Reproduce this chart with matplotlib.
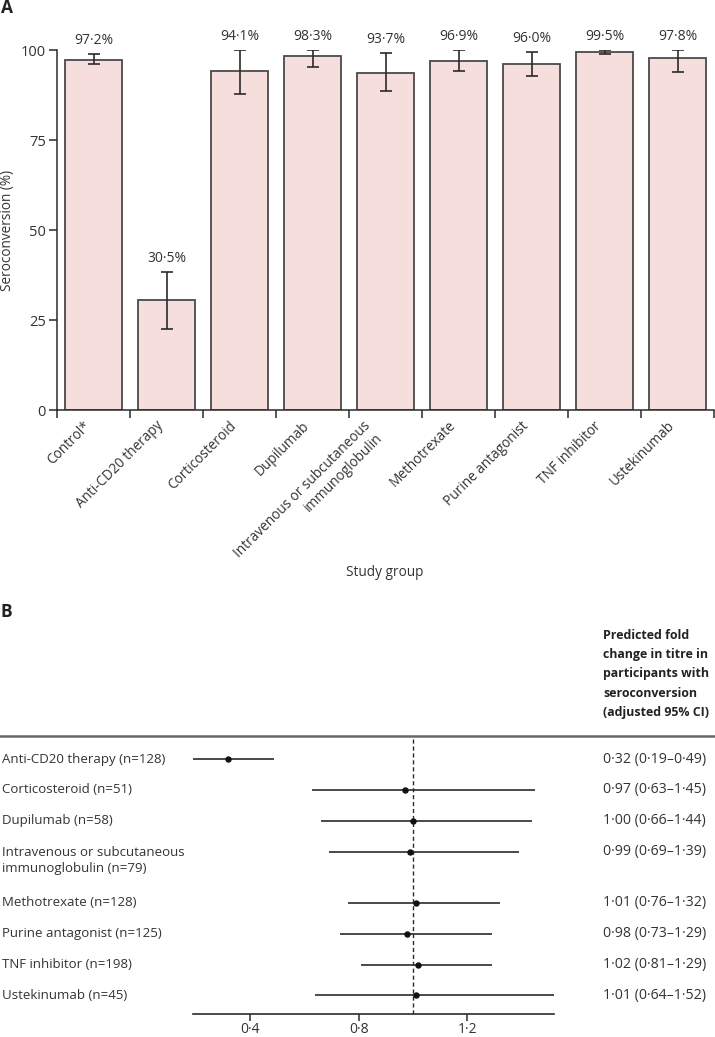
import numpy as np
import matplotlib
matplotlib.use("Agg")
import matplotlib.pyplot as plt
from matplotlib.lines import Line2D
from matplotlib.transforms import blended_transform_factory
from matplotlib.ticker import FuncFormatter

plt.rcParams['font.family'] = ['Open Sans', 'DejaVu Sans']

# ---------------- data: panel A ----------------
groups = ["Control*", "Anti-CD20 therapy", "Corticosteroid", "Dupilumab",
          "Intravenous or subcutaneous\nimmunoglobulin", "Methotrexate",
          "Purine antagonist", "TNF inhibitor", "Ustekinumab"]
pct = [97.2, 30.5, 94.1, 98.3, 93.7, 96.9, 96.0, 99.5, 97.8]
ci_low = [96.0, 22.5, 87.9, 95.3, 88.6, 94.2, 92.8, 98.9, 93.9]
ci_high = [98.8, 38.2, 100.0, 100.0, 99.1, 99.9, 99.4, 99.9, 100.0]
yticks_a = [0, 25, 50, 75, 100]

# ---------------- data: panel B ----------------
forest_labels = ["Anti-CD20 therapy (n=128)", "Corticosteroid (n=51)", "Dupilumab (n=58)",
                 "Intravenous or subcutaneous\nimmunoglobulin (n=79)", "Methotrexate (n=128)",
                 "Purine antagonist (n=125)", "TNF inhibitor (n=198)", "Ustekinumab (n=45)"]
fold = [0.32, 0.97, 1.00, 0.99, 1.01, 0.98, 1.02, 1.01]
fold_lo = [0.19, 0.63, 0.66, 0.69, 0.76, 0.73, 0.81, 0.64]
fold_hi = [0.49, 1.45, 1.44, 1.39, 1.32, 1.29, 1.29, 1.52]
xticks_b = [0.4, 0.8, 1.2]

W, H = 715, 1037
fig = plt.figure(figsize=(W / 100, H / 100), dpi=100)

def fx(px):
    return px / W

def fy(py):
    return 1 - py / H

dark = "#2b2b2b"
txt = "#333333"
bar_face = "#F5DEDB"
bar_edge = "#4a4a4a"

# ---------------- Panel A ----------------
axA = fig.add_axes([fx(57), fy(410), fx(714) - fx(57), fy(50) - fy(410)])
n = len(groups)
x = np.arange(n)
err = [np.array(pct) - np.array(ci_low), np.array(ci_high) - np.array(pct)]
axA.bar(x, pct, width=0.77, color=bar_face, edgecolor=bar_edge, linewidth=1.3, zorder=2)
axA.errorbar(x, pct, yerr=err, fmt='none', ecolor=dark, elinewidth=1.2,
             capsize=4.3, capthick=1.2, zorder=3)
for xi, v, top in zip(x, pct, ci_high):
    axA.annotate(f"{v:.1f}%".replace('.', '·'), xy=(xi, top), xytext=(0, 4.5),
                 textcoords='offset points', ha='center', va='bottom',
                 fontsize=10, color=txt, annotation_clip=False)
axA.set_xlim(-0.5, n - 0.5)
axA.set_ylim(0, 100)
axA.spines['top'].set_visible(False)
axA.spines['right'].set_visible(False)
for s in ['left', 'bottom']:
    axA.spines[s].set_color(dark)
    axA.spines[s].set_linewidth(1.1)
axA.set_yticks(yticks_a)
axA.set_yticklabels([str(t) for t in yticks_a], fontsize=10.5, color=txt)
axA.tick_params(axis='y', length=6, width=1.1, color=dark, pad=2)
axA.set_xticks(np.arange(n + 1) - 0.5)
axA.set_xticklabels([])
axA.tick_params(axis='x', which='major', length=6, width=1.1, color=dark)
axA.set_xticks(x, minor=True)
axA.set_xticklabels(groups, minor=True, rotation=45, ha='right', va='top',
                    fontsize=9.8, color=txt, multialignment='right')
axA.tick_params(axis='x', which='minor', length=0, pad=6)
axA.set_ylabel("Seroconversion (%)", fontsize=9.8, color=txt)
axA.yaxis.set_label_coords((8 - 57) / 657, 0.5)
axA.yaxis.label.set_verticalalignment('center')
fig.text(fx(385), fy(573), "Study group", ha='center', va='center', fontsize=9.8, color=txt)
fig.text(fx(1), fy(8), "A", ha='left', va='center', fontsize=12.5, fontweight='bold', color='#222222')

# ---------------- Panel B ----------------
fig.text(fx(1), fy(612), "B", ha='left', va='center', fontsize=12.5, fontweight='bold', color='#222222')
axB = fig.add_axes([fx(193), fy(1014), fx(554) - fx(193), fy(738) - fy(1014)])
gap = 0.65
idx = np.arange(len(fold))
ypos = idx + np.where(idx > 3, gap, 0.0)
axB.hlines(ypos, fold_lo, fold_hi, color=dark, linewidth=1.2, zorder=2)
axB.plot(fold, ypos, 'o', color='#111111', markersize=3.6, zorder=3)
axB.axvline(1.0, color=dark, linewidth=1.0, linestyle=(0, (3, 2)), zorder=1)
axB.set_xlim(0.19, 1.52)
axB.set_ylim(ypos[-1] + 0.6, -0.68)
for s in ['top', 'right', 'left']:
    axB.spines[s].set_visible(False)
axB.spines['bottom'].set_color(dark)
axB.spines['bottom'].set_linewidth(1.2)
axB.set_yticks([])
axB.set_xticks(xticks_b)
axB.xaxis.set_major_formatter(FuncFormatter(lambda v, p: f"{v:.1f}".replace('.', '·')))
axB.tick_params(axis='x', length=5, width=1.1, color=dark, labelsize=10,
                labelcolor=txt, pad=1)

trL = blended_transform_factory(fig.transFigure, axB.transData)
line_h_pt = 12.5
for yp, lab, f, lo, hi in zip(ypos, forest_labels, fold, fold_lo, fold_hi):
    nl = lab.count("\n")
    axB.annotate(lab, xy=(fx(2), yp), xycoords=trL, xytext=(0, -nl * line_h_pt / 2),
                 textcoords='offset points', ha='left', va='center',
                 fontsize=9.5, color=txt, linespacing=1.35, annotation_clip=False)
    s = f"{f:.2f} ({lo:.2f}–{hi:.2f})".replace('.', '·')
    axB.text(fx(603), yp, s, transform=trL, ha='left', va='center',
             fontsize=10.2, color=txt)

fig.text(fx(603), fy(629), "Predicted fold\nchange in titre in\nparticipants with\nseroconversion\n(adjusted 95% CI)",
         ha='left', va='top', fontsize=8.9, fontweight='bold', color='#222222', linespacing=1.62)
fig.add_artist(Line2D([0, 1], [fy(736), fy(736)], transform=fig.transFigure,
                      color='#666666', linewidth=1.8))

fig.savefig("out.png", dpi=100)
